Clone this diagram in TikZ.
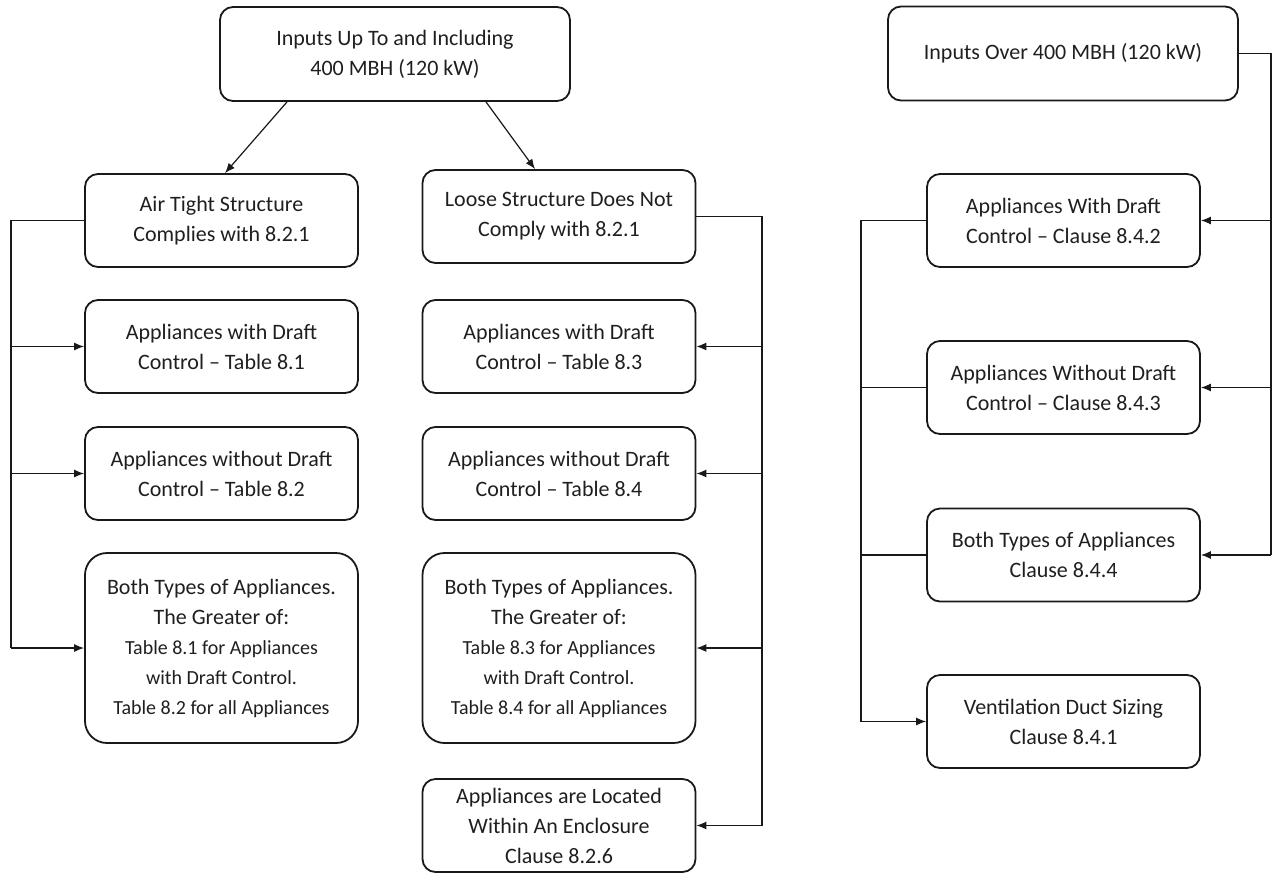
\documentclass[tikz,border=0pt]{standalone}
\usepackage{fontspec}
\setmainfont{Carlito}
\usetikzlibrary{arrows.meta,calc}
\tikzset{
  box/.style={draw=black!90, line width=1.8pt, rounded corners=13pt, rectangle,
    minimum width=273pt, minimum height=93pt, inner sep=0pt, align=center,
    text=black!88, font=\fontsize{22}{30}\selectfont},
  topbox/.style={box, minimum width=350pt, minimum height=94pt},
  bigbox/.style={box, minimum height=190pt, rounded corners=22pt},
  conn/.style={line width=1.2pt, black!90},
  arr/.style={conn, -{Latex[length=10pt,width=8pt]}}
}
\newcommand{\smtxt}[1]{{\fontsize{20}{28}\selectfont #1}}
\begin{document}
\begin{tikzpicture}[x=1pt,y=-1pt]
\useasboundingbox (0,0) rectangle (1273,873);
% top boxes
\node[topbox] (topL) at (395,54) {Inputs Up To and Including\\400 MBH (120 kW)};
\node[topbox] (topR) at (1063,53.5) {Inputs Over 400 MBH (120 kW)};
% left column
\node[box] (air) at (221.5,220.5) {Air Tight Structure\\Complies with 8.2.1};
\node[box] (d81) at (221.5,346.5) {Appliances with Draft\\Control -- Table 8.1};
\node[box] (d82) at (221.5,473.5) {Appliances without Draft\\Control -- Table 8.2};
\node[bigbox] (both1) at (221.5,648) {Both Types of Appliances.\\The Greater of:\\\smtxt{Table 8.1 for Appliances}\\\smtxt{with Draft Control.}\\\smtxt{Table 8.2 for all Appliances}};
% middle column
\node[box] (loose) at (559,216.5) {Loose Structure Does Not\\Comply with 8.2.1};
\node[box] (d83) at (559,346.5) {Appliances with Draft\\Control -- Table 8.3};
\node[box] (d84) at (559,473.5) {Appliances without Draft\\Control -- Table 8.4};
\node[bigbox] (both2) at (559,648) {Both Types of Appliances.\\The Greater of:\\\smtxt{Table 8.3 for Appliances}\\\smtxt{with Draft Control.}\\\smtxt{Table 8.4 for all Appliances}};
\node[box] (encl) at (559,825.5) {Appliances are Located\\Within An Enclosure\\Clause 8.2.6};
% right column
\node[box] (r1) at (1063.5,220.5) {Appliances With Draft\\Control -- Clause 8.4.2};
\node[box] (r2) at (1063.5,387.5) {Appliances Without Draft\\Control -- Clause 8.4.3};
\node[box] (r3) at (1063.5,555) {Both Types of Appliances\\Clause 8.4.4};
\node[box] (r4) at (1063.5,721.5) {Ventilation Duct Sizing\\Clause 8.4.1};
% bus coordinates
\coordinate (lb) at (11,0);
\coordinate (mb) at (762,0);
\coordinate (lrb) at (861,0);
\coordinate (rb) at (1271,0);
% top-left arrows
\draw[arr] ([xshift=-108pt]topL.south) -- ([xshift=3.5pt]air.north);
\draw[arr] ([xshift=91pt]topL.south) -- ([xshift=-24pt]loose.north);
% left bus
\draw[conn] (air.west) -- (air.west -| lb) -- (lb |- both1.west);
\draw[arr] (lb |- d81.west) -- (d81.west);
\draw[arr] (lb |- d82.west) -- (d82.west);
\draw[arr] (lb |- both1.west) -- (both1.west);
% middle bus
\draw[conn] (loose.east) -- (loose.east -| mb) -- (mb |- encl.east);
\draw[arr] (mb |- d83.east) -- (d83.east);
\draw[arr] (mb |- d84.east) -- (d84.east);
\draw[arr] (mb |- both2.east) -- (both2.east);
\draw[arr] (mb |- encl.east) -- (encl.east);
% right bus
\draw[conn] (topR.east) -- (topR.east -| rb) -- (rb |- r3.east);
\draw[arr] (rb |- r1.east) -- (r1.east);
\draw[arr] (rb |- r2.east) -- (r2.east);
\draw[arr] (rb |- r3.east) -- (r3.east);
% right column left bus
\draw[conn] (r1.west) -- (r1.west -| lrb) -- (lrb |- r4.west);
\draw[conn] (lrb |- r2.west) -- (r2.west);
\draw[conn] (lrb |- r3.west) -- (r3.west);
\draw[arr] (lrb |- r4.west) -- (r4.west);
\end{tikzpicture}
\end{document}
